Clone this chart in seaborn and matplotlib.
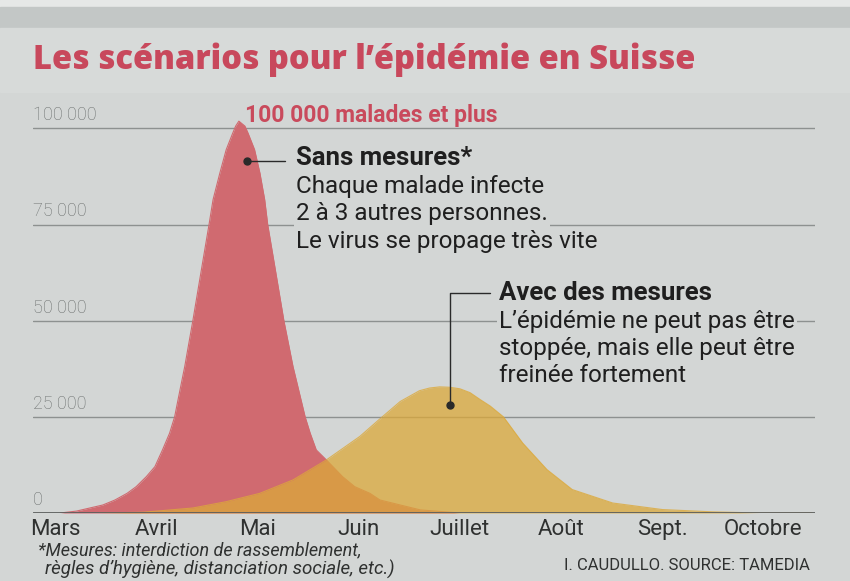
import matplotlib
matplotlib.use('Agg')
import matplotlib.pyplot as plt
import matplotlib.patches as mpatches
import seaborn as sns
import pandas as pd

# months on the x axis
months = ['Mars', 'Avril', 'Mai', 'Juin', 'Juillet', 'Août', 'Sept.', 'Octobre']

sans_x = [0.05, 0.21, 0.47, 0.59, 0.71, 0.80, 0.90, 0.985, 1.06, 1.13, 1.18, 1.23, 1.28, 1.36,
          1.45, 1.52, 1.56, 1.627, 1.69, 1.753, 1.783, 1.815, 1.875, 1.907, 1.97, 2.023, 2.07, 2.10,
          2.17, 2.26, 2.35, 2.47, 2.52, 2.58, 2.68, 2.84, 2.96, 3.11, 3.21, 3.41, 3.61, 4.00]
sans_y = [0, 500, 2080, 3380, 5120, 6850, 9450, 12050, 16400, 20750, 25000, 31600, 38100, 50000,
          64100, 75000, 81500, 88400, 94500, 98700, 100600, 101900, 100600, 98700, 94500, 88400, 81500, 75000,
          64100, 50000, 38100, 25000, 20750, 16400, 13800, 9450, 6850, 5120, 3380, 2080, 800, 0]

# "Avec des mesures" curve
avec_x = [0.44, 0.87, 1.36, 1.69, 2.02, 2.35, 2.68, 3.01, 3.21, 3.41, 3.60, 3.70, 3.80, 3.90,
          4.00, 4.10, 4.20, 4.30, 4.43, 4.62, 4.86, 5.11, 5.51, 6.00, 6.50, 6.96, 7.48]
avec_y = [0, 200, 1300, 2950, 5100, 8600, 13800, 19900, 24500, 29000, 31800, 32500, 32800, 32700,
          32300, 31300, 29500, 27800, 25000, 18200, 11300, 6100, 2600, 900, 300, 0, 0]

yticks = [0, 25000, 50000, 75000, 100000]
ytick_labels = ['0', '25 000', '50 000', '75 000', '100 000']

sans_lines = ['Chaque malade infecte', '2 à 3 autres personnes.', 'Le virus se propage très vite']
avec_lines = ["L’épidémie ne peut pas être", 'stoppée, mais elle peut être', 'freinée fortement']

df_sans = pd.DataFrame({'mois': sans_x, 'malades': sans_y})
df_avec = pd.DataFrame({'mois': avec_x, 'malades': avec_y})

BG = '#d3d6d5'
RED = '#d06a70'
YELLOW = '#dca93a'
NARROW = ['Roboto', 'DejaVu Sans']

sns.set_theme(style='white')
plt.rcParams['font.family'] = NARROW

fig = plt.figure(figsize=(8.5, 5.81), dpi=100)
fig.patch.set_facecolor(BG)

# paper background bands
fig.patches.append(mpatches.Rectangle((0, 1 - 7 / 581), 1, 7 / 581, transform=fig.transFigure,
                                      color='#e6e8e7', zorder=0))
fig.patches.append(mpatches.Rectangle((0, 1 - 28 / 581), 1, 21 / 581, transform=fig.transFigure,
                                      color='#c3c7c6', zorder=0))
fig.patches.append(mpatches.Rectangle((0, 1 - 92 / 581), 1, 64 / 581, transform=fig.transFigure,
                                      color='#d7dad9', zorder=0))

ax = fig.add_axes([33 / 850, (581 - 513) / 581, 782 / 850, 413 / 581])
ax.set_facecolor('none')
xmin, xmax = -0.22, 7.51
ax.set_xlim(xmin, xmax)
ax.set_ylim(0, 107400)
for s in ax.spines.values():
    s.set_visible(False)

# gridlines + labels
for v, lab in zip(yticks, ytick_labels):
    if v > 0:
        ax.axhline(v, color='#8d9190', lw=1, zorder=1)
    ax.annotate(lab, (xmin, v), xytext=(0, 3), textcoords='offset points', ha='left', va='bottom',
                fontsize=13, fontweight='light', color='#6c706f', zorder=2)
ax.axhline(0, color='#5b5e5d', lw=2, zorder=6)

# curves
sns.lineplot(data=df_sans, x='mois', y='malades', ax=ax, color=RED, lw=0.8, zorder=3)
ax.fill_between(df_sans['mois'], df_sans['malades'], color=RED, lw=0, zorder=3)
sns.lineplot(data=df_avec, x='mois', y='malades', ax=ax, color=YELLOW, lw=0.8, alpha=0.8, zorder=4)
ax.fill_between(df_avec['mois'], df_avec['malades'], color=YELLOW, alpha=0.75, lw=0, zorder=4)

ax.set_xticks(range(len(months)))
ax.set_xticklabels(months, fontsize=16, color='#2f3130')
ax.tick_params(axis='x', length=0, pad=4)
ax.set_yticks([])
ax.set_xlabel('')
ax.set_ylabel('')

# annotations
box = dict(facecolor=BG, edgecolor='none', pad=1.5)
ax.text(1.875, 103250, '100 000 malades et plus', fontsize=16.5, fontweight='bold', color='#c94a5c',
        va='center', ha='left', zorder=5)

ax.plot([1.894, 2.27], [91550, 91550], color='#2a2a2a', lw=1, zorder=7)
ax.plot(1.894, 91550, 'o', color='#2a2a2a', ms=5, zorder=7)
ax.text(2.38, 92330, 'Sans mesures*', fontsize=18.5, fontweight='bold', color='#1f1f1f',
        va='center', ha='left', bbox=box, zorder=5)
for yv, line in zip([84800, 77760, 70480], sans_lines):
    ax.text(2.38, yv, line, fontsize=17.5, color='#1f1f1f', va='center', ha='left', bbox=box, zorder=5)

ax.plot([3.90, 3.90, 4.30], [28090, 57220, 57220], color='#2a2a2a', lw=1, zorder=7)
ax.plot(3.90, 28090, 'o', color='#2a2a2a', ms=5, zorder=7)
ax.text(4.39, 57220, 'Avec des mesures', fontsize=18.5, fontweight='bold', color='#1f1f1f',
        va='center', ha='left', bbox=box, zorder=5)
for yv, line in zip([49670, 42650, 35630], avec_lines):
    ax.text(4.39, yv, line, fontsize=17.5, color='#1f1f1f', va='center', ha='left', bbox=box, zorder=5)

# title and footer
fig.text(33 / 850, 1 - 60 / 581, 'Les scénarios pour l’épidémie en Suisse', fontsize=23.5,
         fontweight='heavy', color='#c8485c', family=['Open Sans', 'DejaVu Sans'], va='center', ha='left')
fig.text(38 / 850, 1 - 550 / 581, '*Mesures: interdiction de rassemblement,', fontsize=13,
         style='italic', color='#2f3130', va='center', ha='left')
fig.text(45 / 850, 1 - 569 / 581, 'règles d’hygiène, distanciation sociale, etc.)', fontsize=13.5,
         style='italic', color='#2f3130', va='center', ha='left')
fig.text(810 / 850, 1 - 565 / 581, 'I. CAUDULLO. SOURCE: TAMEDIA', fontsize=12,
         color='#2f3130', va='center', ha='right')

fig.savefig('out.png', dpi=100, facecolor=fig.get_facecolor())
